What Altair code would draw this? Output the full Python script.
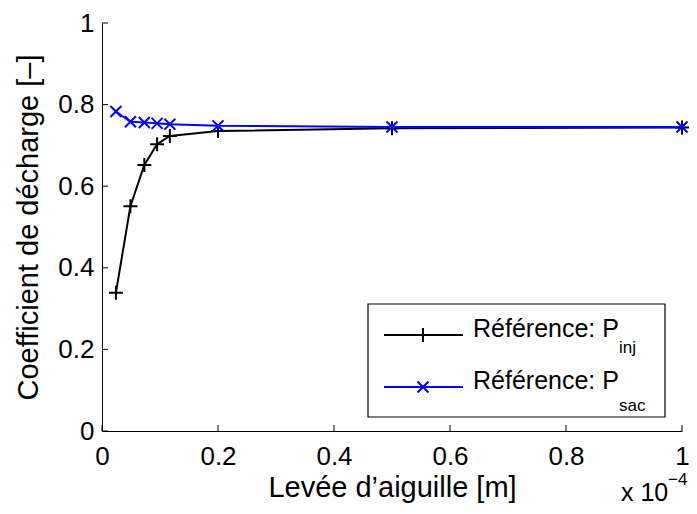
import altair as alt
import pandas as pd

# ---- data ----
lift = [0.024, 0.049, 0.073, 0.095, 0.117, 0.2, 0.5, 1.0]          # x 1e-4 m
cd_inj = [0.339, 0.551, 0.652, 0.703, 0.723, 0.735, 0.742, 0.744]
cd_sac = [0.783, 0.758, 0.756, 0.754, 0.752, 0.748, 0.745, 0.745]
series = ["inj", "sac"]
colors = ["#000000", "#0000ff"]
tick_values = [0, 0.2, 0.4, 0.6, 0.8, 1.0]

W, H = 580, 408
FONT = "Liberation Sans"
PLUS = "M-1,0L1,0M0,-1L0,1"
CROSS = "M-1,-1L1,1M-1,1L1,-1"

df_inj = pd.DataFrame({"lift": lift, "cd": cd_inj, "series": series[0]})
df_sac = pd.DataFrame({"lift": lift, "cd": cd_sac, "series": series[1]})

xs = alt.Scale(domain=[0, 1], nice=False, zero=False)
ys = alt.Scale(domain=[0, 1], nice=False, zero=False)

x_axis = alt.Axis(values=tick_values, format="~g", ticks=False, tickSize=0, grid=False,
                  domainColor="black", domainWidth=1, labelFont=FONT, labelFontSize=26,
                  labelColor="black", labelPadding=12, labelFlush=False, labelOverlap=False,
                  title="Levée d’aiguille [m]", titleFont=FONT, titleFontSize=29,
                  titleFontWeight="normal", titleColor="black", titleX=W / 2, titleY=56,
                  titleBaseline="middle", titleAlign="center")
y_axis = alt.Axis(values=tick_values, format="~g", ticks=False, tickSize=0, grid=False,
                  domainColor="black", domainWidth=1, labelFont=FONT, labelFontSize=26,
                  labelColor="black", labelPadding=8, labelBaseline="middle",
                  labelFlush=False, labelOverlap=False,
                  title="Coefficient de décharge [–]", titleFont=FONT, titleFontSize=29,
                  titleFontWeight="normal", titleColor="black", titleAngle=-90,
                  titleX=-74, titleY=H / 2, titleBaseline="middle", titleAlign="center")

X = alt.X("lift:Q", scale=xs, axis=x_axis)
Y = alt.Y("cd:Q", scale=ys, axis=y_axis)


def series_layers(df, color, shape, size):
    line = alt.Chart(df).mark_line(color=color, strokeWidth=2).encode(x=X, y=Y)
    pts = alt.Chart(df).mark_point(shape=shape, filled=False, color=color, size=size,
                                   strokeWidth=2, opacity=1).encode(x=X, y=Y)
    return [line, pts]


# inward ticks (MATLAB style)
ytick = alt.Chart(pd.DataFrame({"cd": tick_values})).mark_rule(color="black", strokeWidth=1).encode(
    y=Y, x=alt.value(0), x2=alt.value(6))
xtick = alt.Chart(pd.DataFrame({"lift": tick_values})).mark_rule(color="black", strokeWidth=1).encode(
    x=X, y=alt.value(H), y2=alt.value(H - 6))

# custom legend
box = alt.Chart().mark_rect(fill="white", stroke="black", strokeWidth=1.2).encode(
    x=alt.value(266), x2=alt.value(563), y=alt.value(281), y2=alt.value(394))
leg = []
for i, (col, shp, sz, sub) in enumerate([(colors[0], PLUS, 196, series[0]), (colors[1], CROSS, 120, series[1])]):
    yy = 312 + 52 * i
    leg.append(alt.Chart().mark_rule(color=col, strokeWidth=2).encode(
        x=alt.value(282), x2=alt.value(361), y=alt.value(yy)))
    leg.append(alt.Chart().mark_point(shape=shp, filled=False, color=col, size=sz,
                                      strokeWidth=2, opacity=1).encode(
        x=alt.value(321), y=alt.value(yy)))
    leg.append(alt.Chart().mark_text(font=FONT, fontSize=25, align="left", baseline="alphabetic",
                                     color="black").encode(
        x=alt.value(371), y=alt.value(yy + 2), text=alt.value("Référence: P")))
    leg.append(alt.Chart().mark_text(font=FONT, fontSize=17, align="left", baseline="alphabetic",
                                     color="black").encode(
        x=alt.value(517), y=alt.value(yy + 18 + 6 * i), text=alt.value(sub)))

expo = [
    alt.Chart().mark_text(font=FONT, fontSize=25, align="left", baseline="alphabetic", color="black").encode(
        x=alt.value(519), y=alt.value(478), text=alt.value("x 10")),
    alt.Chart().mark_text(font=FONT, fontSize=17, align="left", baseline="alphabetic", color="black").encode(
        x=alt.value(566), y=alt.value(462), text=alt.value("−4")),
]

layers = (series_layers(df_inj, colors[0], PLUS, 196) +
          series_layers(df_sac, colors[1], CROSS, 120) +
          [ytick, xtick, box] + leg + expo)

chart = alt.layer(*layers).properties(
    width=W, height=H,
    autosize=alt.AutoSizeParams(type="none"),
    padding={"left": 94, "top": 15, "right": 7, "bottom": 74},
    background="white",
).configure_view(stroke=None)

chart.save("out.html", embed_options={"renderer": "svg", "actions": False})
